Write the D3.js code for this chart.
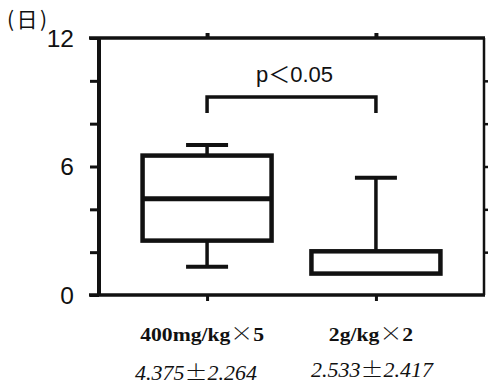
<!DOCTYPE html>
<html>
<head>
<meta charset="utf-8">
<script src="https://cdn.jsdelivr.net/npm/d3@7"></script>
<style>
  html, body { margin: 0; padding: 0; background: #fff; }
  svg { display: block; }
</style>
</head>
<body>
<svg id="chart" width="490" height="386"></svg>
<script>
// Treatment groups and their box-plot summaries (days)
const groups = ["400mg/kg×5", "2g/kg×2"];
const whiskerLow = [1.32, 1.0];
const quartile1 = [2.54, 1.0];
const medians = [4.5, 1.0];
const quartile3 = [6.51, 2.04];
const whiskerHigh = [7.0, 5.47];
const meanSd = ["4.375±2.264", "2.533±2.417"];

// Axis ticks
const yMajor = [0, 6, 12];
const yMinor = [2, 4, 8, 10];
const yTicksAll = [0, 2, 4, 6, 8, 10, 12];

// Significance bracket
const sigLabel = "p＜0.05";
const bracketTop = 9.25;
const bracketFoot = 8.5;

const svg = d3.select("#chart");
const ink = "#111";

const y = d3.scaleLinear().domain([0, 12]).range([295, 38]);
const x = d3.scalePoint().domain(groups).range([99, 484]).padding(0.64);
const boxW = 129;

const rows = groups.map((g, i) => ({
  g, lo: whiskerLow[i], q1: quartile1[i], med: medians[i],
  q3: quartile3[i], hi: whiskerHigh[i], label: meanSd[i]
}));

// Frame: left axis, bottom, top and right edges
const leftAxis = svg.append("g").attr("transform", `translate(${x.range()[0]},0)`)
  .call(d3.axisLeft(y).tickValues(yTicksAll).tickSize(9).tickFormat(""));
leftAxis.select(".domain").attr("stroke", ink).attr("stroke-width", 4).attr("d", `M0,${y(12)}V${y(0)}`);
leftAxis.selectAll(".tick line").attr("stroke", ink).attr("stroke-width", 3);

const rightAxis = svg.append("g").attr("transform", `translate(${x.range()[1]},0)`)
  .call(d3.axisRight(y).tickValues(yMinor.concat([6])).tickSize(4).tickFormat(""));
rightAxis.select(".domain").attr("stroke", ink).attr("stroke-width", 2.5).attr("d", `M0,${y(12)}V${y(0)}`);
rightAxis.selectAll(".tick line").attr("stroke", ink).attr("stroke-width", 2.5);

const bottomAxis = svg.append("g").attr("transform", `translate(0,${y(0)})`)
  .call(d3.axisBottom(x).tickSize(6).tickFormat(""));
bottomAxis.select(".domain").attr("stroke", ink).attr("stroke-width", 3.5)
  .attr("d", `M${x.range()[0] - 10},0H${x.range()[1] + 1}`);
bottomAxis.selectAll(".tick line").attr("stroke", ink).attr("stroke-width", 3);

const topAxis = svg.append("g").attr("transform", `translate(0,${y(12)})`)
  .call(d3.axisTop(x).tickSize(5).tickFormat(""));
topAxis.select(".domain").attr("stroke", ink).attr("stroke-width", 3.5)
  .attr("d", `M${x.range()[0] - 10},0H${x.range()[1] + 1}`);
topAxis.selectAll(".tick line").attr("stroke", ink).attr("stroke-width", 4);

// Y tick labels
svg.append("g").selectAll("text").data(yMajor).join("text")
  .attr("x", 74).attr("y", d => y(d)).attr("dy", "0.36em")
  .attr("text-anchor", "end")
  .attr("font-family", "'Liberation Sans', Arial, sans-serif")
  .attr("font-size", 24.5).attr("fill", ink)
  .text(d => d);

// Unit label
svg.append("text").attr("x", 7).attr("y", 27)
  .attr("font-family", "'Noto Sans CJK JP', sans-serif")
  .attr("font-size", 21).attr("fill", ink)
  .attr("letter-spacing", 2.5)
  .text("(日)");

// Boxes
const box = svg.append("g").selectAll("g").data(rows).join("g");
box.filter(d => d.lo < d.q1).append("line")
  .attr("x1", d => x(d.g)).attr("x2", d => x(d.g))
  .attr("y1", d => y(d.q1)).attr("y2", d => y(d.lo))
  .attr("stroke", ink).attr("stroke-width", 3.5);
box.append("line")
  .attr("x1", d => x(d.g)).attr("x2", d => x(d.g))
  .attr("y1", d => y(d.q3)).attr("y2", d => y(d.hi))
  .attr("stroke", ink).attr("stroke-width", 3.5);
box.filter(d => d.lo < d.q1).append("line")
  .attr("x1", d => x(d.g) - 21).attr("x2", d => x(d.g) + 21)
  .attr("y1", d => y(d.lo)).attr("y2", d => y(d.lo))
  .attr("stroke", ink).attr("stroke-width", 4);
box.append("line")
  .attr("x1", d => x(d.g) - 21).attr("x2", d => x(d.g) + 21)
  .attr("y1", d => y(d.hi)).attr("y2", d => y(d.hi))
  .attr("stroke", ink).attr("stroke-width", 4);
box.append("rect")
  .attr("x", d => x(d.g) - boxW / 2).attr("width", boxW)
  .attr("y", d => y(d.q3)).attr("height", d => y(d.q1) - y(d.q3))
  .attr("fill", "#fff").attr("stroke", ink).attr("stroke-width", 4.5);
box.filter(d => d.med > d.q1).append("line")
  .attr("x1", d => x(d.g) - boxW / 2).attr("x2", d => x(d.g) + boxW / 2)
  .attr("y1", d => y(d.med)).attr("y2", d => y(d.med))
  .attr("stroke", ink).attr("stroke-width", 5);

// Significance bracket
const bx0 = x(groups[0]), bx1 = x(groups[1]);
svg.append("path")
  .attr("d", `M${bx0},${y(bracketFoot)}V${y(bracketTop)}H${bx1}V${y(bracketFoot)}`)
  .attr("fill", "none").attr("stroke", ink).attr("stroke-width", 3.5);
svg.append("text")
  .attr("x", (bx0 + bx1) / 2 + 3).attr("y", y(bracketTop) - 15)
  .attr("text-anchor", "middle")
  .attr("font-family", "'Liberation Sans', Arial, 'Noto Sans CJK JP', sans-serif")
  .attr("font-size", 22).attr("fill", ink)
  .text(sigLabel);

// Group names and mean ± SD (set in a slightly widened serif)
const splitSym = (s, sym) => {
  const k = s.indexOf(sym);
  return [s.slice(0, k), sym, s.slice(k + 1)];
};
const names = svg.append("g").selectAll("text").data(rows).join("text")
  .attr("transform", d => `translate(${x(d.g) - 5},341) scale(1.14,1)`)
  .attr("text-anchor", "middle")
  .attr("font-family", "'Liberation Serif', 'Times New Roman', serif")
  .attr("font-weight", "bold").attr("font-size", 19).attr("fill", ink);
names.each(function (d) {
  const parts = splitSym(d.g, "×");
  const t = d3.select(this);
  t.append("tspan").text(parts[0]);
  t.append("tspan").attr("font-family", "'Noto Sans CJK JP', sans-serif")
    .attr("font-weight", 300).attr("font-size", 20).text(parts[1]);
  t.append("tspan").text(parts[2]);
});

const stats = svg.append("g").selectAll("text").data(rows).join("text")
  .attr("transform", (d, i) => `translate(${x(d.g) - (i ? 4 : 11)},${i ? 377 : 380}) scale(1.1,1)`)
  .attr("text-anchor", "middle")
  .attr("font-family", "'Liberation Serif', 'Times New Roman', serif")
  .attr("font-style", "italic").attr("font-size", 20).attr("fill", ink);
stats.each(function (d) {
  const parts = splitSym(d.label, "±");
  const t = d3.select(this);
  t.append("tspan").text(parts[0]);
  t.append("tspan").attr("font-family", "'Noto Sans CJK JP', sans-serif")
    .attr("font-style", "normal").attr("font-weight", 300).attr("font-size", 21).text(parts[1]);
  t.append("tspan").text(parts[2]);
});
</script>
</body>
</html>
